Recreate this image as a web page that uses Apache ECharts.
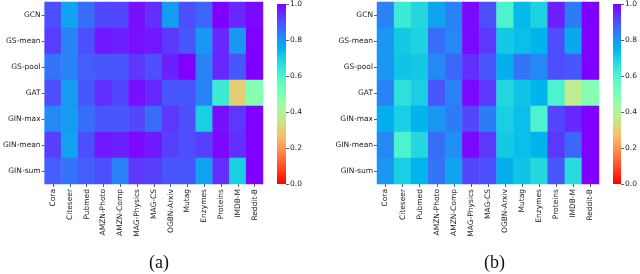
<!DOCTYPE html>
<html><head><meta charset="utf-8">
<script src="https://cdn.jsdelivr.net/npm/echarts@6/dist/echarts.min.js"></script>
<style>html,body{margin:0;padding:0;background:#fff}#c{width:640px;height:274px}</style>
</head><body><div id="c"></div>
<script>
var models = ['GCN','GS-mean','GS-pool','GAT','GIN-max','GIN-mean','GIN-sum'];
var datasets = ['Cora','Citeseer','Pubmed','AMZN-Photo','AMZN-Comp','MAG-Physics','MAG-CS','OGBN-Arxiv','Mutag','Enzymes','Proteins','IMDB-M','Reddit-B'];
var colorbarTicks = [0, 0.2, 0.4, 0.6, 0.8, 1.0];
var captions = ['(a)', '(b)'];

// panel (a)
var valuesA = [
  [0.90,0.78,0.86,0.91,0.91,0.98,0.94,0.79,0.90,0.87,1.00,0.95,0.99],
  [0.92,0.83,0.90,0.97,0.96,0.98,0.97,0.93,0.89,0.80,0.95,0.80,1.00],
  [0.85,0.83,0.88,0.89,0.89,0.93,0.90,0.96,1.00,0.83,0.95,0.89,1.00],
  [0.90,0.79,0.89,0.94,0.91,0.98,0.95,0.89,0.89,0.83,0.63,0.30,0.49],
  [0.82,0.79,0.86,0.89,0.89,0.91,0.86,0.93,0.90,0.70,0.98,0.93,1.00],
  [0.92,0.78,0.90,0.97,0.96,0.99,0.97,0.92,0.90,0.92,0.99,0.94,1.00],
  [0.88,0.85,0.88,0.90,0.83,0.93,0.92,0.89,0.89,0.78,0.94,0.70,1.00]
];
// panel (b)
var valuesB = [
  [0.83,0.63,0.68,0.78,0.83,0.99,0.90,0.60,0.74,0.69,0.96,0.84,1.00],
  [0.80,0.71,0.69,0.86,0.82,0.99,0.93,0.71,0.73,0.75,0.90,0.77,1.00],
  [0.80,0.72,0.71,0.82,0.87,0.94,0.89,0.76,0.85,0.82,0.90,0.89,1.00],
  [0.83,0.66,0.70,0.89,0.83,0.99,0.93,0.68,0.72,0.75,0.60,0.38,0.49],
  [0.76,0.70,0.75,0.80,0.84,0.91,0.84,0.70,0.73,0.60,0.91,0.95,1.00],
  [0.82,0.60,0.68,0.86,0.81,0.99,0.93,0.71,0.73,0.75,0.93,0.87,1.00],
  [0.80,0.70,0.75,0.85,0.78,0.91,0.90,0.76,0.72,0.68,0.89,0.67,1.00]
];

// reversed "rainbow" colormap (red at 0, purple at 1)
function rainbowR(v){
  var x = 1 - v;
  var r = Math.min(1, Math.abs(2*x - 0.5));
  var g = Math.sin(Math.PI * x);
  var b = Math.cos(Math.PI * x / 2);
  return 'rgb(' + Math.round(r*255) + ',' + Math.round(g*255) + ',' + Math.round(Math.max(0,b)*255) + ')';
}
var palette = [], stops = [];
for (var i = 0; i <= 40; i++) { palette.push(rainbowR(i/40)); stops.push({offset: i/40, color: rainbowR(i/40)}); }

function toCells(m){
  var out = [];
  m.forEach(function(row, yi){ row.forEach(function(v, xi){ out.push([xi, yi, v]); }); });
  return out;
}

var FONT = 'DejaVu Sans';
var TXT = '#222';
var FS = 7.5;

var grids = [
  {left: 41, top: 2, width: 222, height: 182},
  {left: 377, top: 2, width: 222, height: 182},
  {left: 277, top: 2, width: 9, height: 182},
  {left: 613, top: 2, width: 9, height: 182}
];

function catX(g){
  return {type:'category', gridIndex:g, data: datasets,
    axisLine:{show:false}, splitLine:{show:false},
    axisTick:{show:true, alignWithLabel:true, length:3, lineStyle:{color:'#333', width:0.8}},
    axisLabel:{rotate:90, interval:0, fontSize:FS, fontFamily:FONT, color:TXT, margin:5}};
}
function catY(g){
  return {type:'category', gridIndex:g, data: models, inverse:true,
    axisLine:{show:false}, splitLine:{show:false},
    axisTick:{show:true, alignWithLabel:true, length:3, lineStyle:{color:'#333', width:0.8}},
    axisLabel:{interval:0, fontSize:FS, fontFamily:FONT, color:TXT, margin:4}};
}
function cbX(g){
  return {type:'category', gridIndex:g, data:['c'], show:false, boundaryGap:true};
}
function cbY(g){
  return {type:'value', gridIndex:g, min:0, max:1, interval:0.2, position:'right',
    axisLine:{show:false}, splitLine:{show:false},
    axisTick:{show:true, length:3, lineStyle:{color:'#333', width:0.8}},
    axisLabel:{fontSize:FS, fontFamily:FONT, color:TXT, margin:4,
      formatter:function(v){ return v.toFixed(1); }}};
}

var gradient = {type:'linear', x:0, y:1, x2:0, y2:0, colorStops: stops};

var option = {
  animation:false,
  backgroundColor:'#fff',
  grid: grids,
  xAxis: [catX(0), catX(1), cbX(2), cbX(3)],
  yAxis: [catY(0), catY(1), cbY(2), cbY(3)],
  visualMap: [{type:'continuous', show:false, min:0, max:1, seriesIndex:[0,1], inRange:{color: palette}}],
  series: [
    {type:'heatmap', xAxisIndex:0, yAxisIndex:0, data: toCells(valuesA), itemStyle:{borderWidth:0}},
    {type:'heatmap', xAxisIndex:1, yAxisIndex:1, data: toCells(valuesB), itemStyle:{borderWidth:0}},
    {type:'bar', xAxisIndex:2, yAxisIndex:2, data:[1], barWidth:'100%', itemStyle:{color: gradient}, silent:true},
    {type:'bar', xAxisIndex:3, yAxisIndex:3, data:[1], barWidth:'100%', itemStyle:{color: gradient}, silent:true}
  ],
  graphic: [
    {type:'text', left: 149, top: 254, style:{text: captions[0], font:'18px "Liberation Serif"', fill:'#111'}},
    {type:'text', left: 484, top: 254, style:{text: captions[1], font:'18px "Liberation Serif"', fill:'#111'}}
  ]
};

var chart = echarts.init(document.getElementById('c'), null, {renderer:'canvas'});
chart.setOption(option);
</script>
</body></html>
